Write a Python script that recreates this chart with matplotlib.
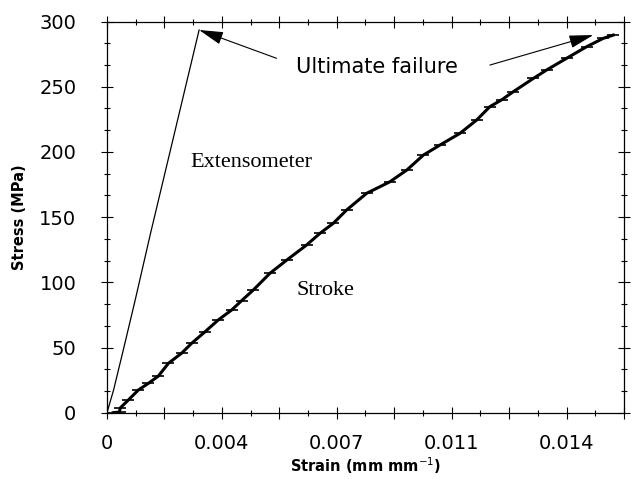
import numpy as np
import matplotlib
matplotlib.use("Agg")
import matplotlib.pyplot as plt
from matplotlib.ticker import MultipleLocator, FixedLocator, FixedFormatter

# Stroke (crosshead) curve
stroke_strain = [0.0002, 0.0004, 0.00042, 0.00068, 0.0010, 0.00132, 0.00164, 0.00196,
                 0.00238, 0.0027, 0.00313, 0.00355, 0.00398, 0.00430, 0.00467, 0.0052,
                 0.00574, 0.00637, 0.0068, 0.00722, 0.00765, 0.00829, 0.00903, 0.00957,
                 0.0101, 0.01063, 0.01127, 0.0118, 0.01222, 0.01260, 0.01297, 0.01361,
                 0.01403, 0.01467, 0.01531, 0.01584, 0.01616]
stroke_stress = [0.0, 0.5, 3.6, 9.7, 17.4, 22.5, 28.1, 37.9,
                 45.6, 53.2, 62.1, 71.1, 78.8, 86.0, 94.1, 106.9,
                 117.1, 128.6, 137.6, 145.2, 155.5, 168.3, 177.1, 186.1,
                 197.6, 205.3, 214.3, 224.5, 234.7, 240.0, 246.2, 256.4,
                 262.8, 271.8, 280.7, 287.1, 289.6]

# Extensometer curve
ext_strain = [0.0, 0.00021, 0.00052, 0.00090, 0.00139, 0.00294]
ext_stress = [0.0, 17.4, 48.1, 86.4, 137.6, 293.5]

# x tick labels (labelled every other major tick)
x_major = [i * 0.0165 / 9 for i in range(10)]
x_labels = ["0", "", "0.004", "", "0.007", "", "0.011", "", "0.014", ""]
y_ticks = [0, 50, 100, 150, 200, 250, 300]

fig = plt.figure(figsize=(6.32, 4.79), dpi=100)
ax = fig.add_axes([0.1693, 0.1384, 0.818, 0.8167])

ax.plot(ext_strain, ext_stress, color="black", lw=0.9)
ax.plot(stroke_strain, stroke_stress, color="black", lw=2.2,
        marker="_", markersize=8, mew=1.2)

ax.set_xlim(0, 0.0165)
ax.set_ylim(0, 300)

ax.xaxis.set_major_locator(FixedLocator(x_major))
ax.xaxis.set_major_formatter(FixedFormatter(x_labels))
ax.xaxis.set_minor_locator(MultipleLocator(0.0165 / 18))
ax.set_yticks(y_ticks)
ax.yaxis.set_minor_locator(MultipleLocator(50 / 3))

ax.tick_params(which="both", direction="inout", top=True, right=True, width=0.8)
ax.tick_params(which="major", length=8)
ax.tick_params(which="minor", length=5)
ax.tick_params(axis="y", which="major", labelsize=14, pad=18)
ax.tick_params(axis="x", which="major", labelsize=14, pad=11)

for sp in ax.spines.values():
    sp.set_linewidth(0.9)

ax.set_xlabel("Strain (mm mm$^{-1}$)", fontsize=10.5, fontweight="bold", labelpad=2)
ax.set_ylabel("Stress (MPa)", fontsize=10.5, fontweight="bold", labelpad=9)

serif = "Liberation Serif"
ax.text(0.00265, 191.5, "Extensometer", fontsize=16, family=serif, ha="left", va="center")
ax.text(0.00606, 94, "Stroke", fontsize=16, family=serif, ha="left", va="center")

ax.text(0.00863, 265.3, "Ultimate failure", fontsize=15, ha="center", va="center")
head = "-|>,head_length=0.75,head_width=0.2"
ax.annotate("", xy=(ext_strain[-1], ext_stress[-1]), xytext=(0.00541, 271.8),
            arrowprops=dict(arrowstyle=head, mutation_scale=20, color="black", lw=0.8,
                            shrinkA=0, shrinkB=0))
ax.annotate("", xy=(0.01552, 289.6), xytext=(0.01222, 266.6),
            arrowprops=dict(arrowstyle=head, mutation_scale=20, color="black", lw=0.8,
                            shrinkA=0, shrinkB=0))

fig.savefig("out.png", dpi=100)
